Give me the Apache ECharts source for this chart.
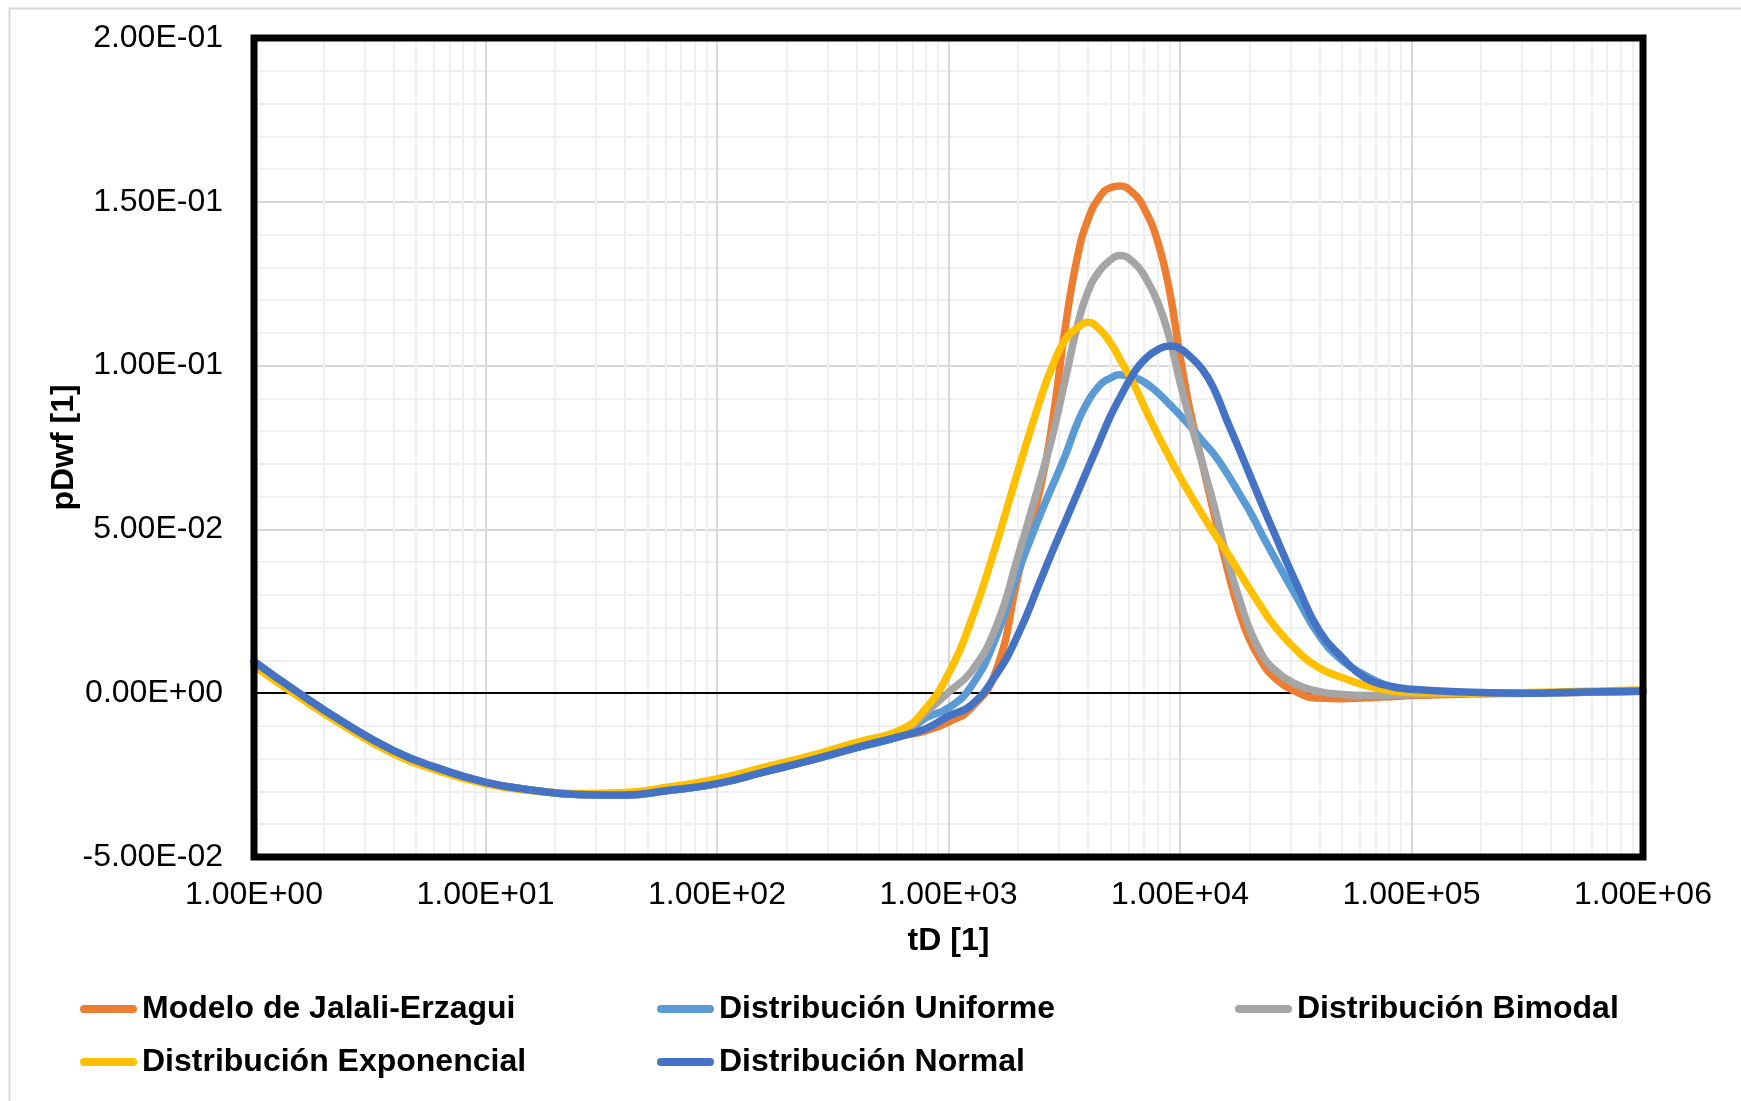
<!DOCTYPE html>
<html>
<head>
<meta charset="utf-8">
<script src="https://cdn.jsdelivr.net/npm/echarts@6/dist/echarts.min.js"></script>
<style>
  html, body { margin: 0; padding: 0; background: #fff; }
  #main { width: 1741px; height: 1101px; }
</style>
</head>
<body>
<div id="main"></div>
<script>
// tD values (x, log scale)
const tD = [1, 1.5, 2.5, 4, 6, 10, 16, 25, 40, 60, 100, 160, 250, 400, 630, 800, 1000, 1250, 1600, 2000,
  2500, 2800, 3200, 3600, 4000, 4500, 5000, 5500, 6300, 7000, 8000, 9000, 10000, 11000, 12500,
  14000, 16000, 18000, 20000, 22500, 25000, 32000, 40000, 50000, 63000, 80000, 100000, 180000,
  320000, 560000, 1000000];

// pDwf for each model
const jalali = [0.0097, 0.0009, -0.0094, -0.0175, -0.0225, -0.0272, -0.0296, -0.0309, -0.0311, -0.0298,
  -0.0276, -0.0240, -0.0206, -0.0166, -0.0131, -0.0114, -0.0088, -0.0046, 0.0066, 0.0360,
  0.0630, 0.0820, 0.1120, 0.1330, 0.1445, 0.1515, 0.1543, 0.1548, 0.1525, 0.1480,
  0.1380, 0.1230, 0.1030, 0.0870, 0.0700, 0.0550, 0.0380, 0.0250, 0.0163, 0.0097,
  0.0054, 0.0003, -0.0015, -0.0017, -0.0014, -0.0011, -0.0007, -0.0002, 0.0000, 0.0003, 0.0006];
const uniforme = [0.0097, 0.0009, -0.0094, -0.0175, -0.0225, -0.0272, -0.0296, -0.0309, -0.0311, -0.0298,
  -0.0276, -0.0240, -0.0206, -0.0166, -0.0128, -0.0075, -0.0045, 0.0020, 0.0168, 0.0370,
  0.0548, 0.0630, 0.0727, 0.0824, 0.0890, 0.0940, 0.0962, 0.0972, 0.0965, 0.0950,
  0.0918, 0.0882, 0.0849, 0.0817, 0.0770, 0.0730, 0.0670, 0.0610, 0.0556, 0.0487,
  0.0427, 0.0292, 0.0175, 0.0101, 0.0055, 0.0021, 0.0006, 0.0001, 0.0000, 0.0003, 0.0006];
const bimodal = [0.0097, 0.0009, -0.0094, -0.0175, -0.0225, -0.0272, -0.0296, -0.0309, -0.0311, -0.0298,
  -0.0276, -0.0240, -0.0206, -0.0164, -0.0120, -0.0058, 0.0003, 0.0065, 0.0200, 0.0420,
  0.0655, 0.0780, 0.0960, 0.1120, 0.1225, 0.1290, 0.1322, 0.1336, 0.1315, 0.1275,
  0.1195, 0.1085, 0.0950, 0.0840, 0.0700, 0.0575, 0.0410, 0.0290, 0.0195, 0.0120,
  0.0078, 0.0026, 0.0005, -0.0004, -0.0007, -0.0006, -0.0004, -0.0001, 0.0000, 0.0003, 0.0006];
const exponencial = [0.0083, -0.0003, -0.0104, -0.0185, -0.0233, -0.0277, -0.0298, -0.0306, -0.0303, -0.0288,
  -0.0262, -0.0226, -0.0192, -0.0150, -0.0110, -0.0045, 0.0060, 0.0220, 0.0450, 0.0680,
  0.0900, 0.0995, 0.1080, 0.1115, 0.1132, 0.1110, 0.1070, 0.1020, 0.0945, 0.0875,
  0.0790, 0.0720, 0.0660, 0.0610, 0.0545, 0.0490, 0.0428, 0.0370, 0.0318, 0.0262,
  0.0215, 0.0130, 0.0077, 0.0048, 0.0024, 0.0008, 0.0002, 0.0000, 0.0002, 0.0006, 0.0010];
const normal = [0.0097, 0.0009, -0.0094, -0.0175, -0.0225, -0.0272, -0.0296, -0.0309, -0.0311, -0.0298,
  -0.0276, -0.0240, -0.0206, -0.0166, -0.0130, -0.0108, -0.0070, -0.0037, 0.0055, 0.0180,
  0.0345, 0.0430, 0.0525, 0.0610, 0.0686, 0.0770, 0.0845, 0.0902, 0.0976, 0.1017,
  0.1048, 0.1060, 0.1052, 0.1029, 0.0988, 0.0930, 0.0830, 0.0745, 0.0667, 0.0580,
  0.0504, 0.0331, 0.0190, 0.0110, 0.0047, 0.0022, 0.0012, 0.0003, 0.0000, 0.0004, 0.0007];

const seriesNames = ['Modelo de Jalali-Erzagui', 'Distribución Uniforme', 'Distribución Bimodal',
  'Distribución Exponencial', 'Distribución Normal'];
const seriesValues = [jalali, uniforme, bimodal, exponencial, normal];
const colors = ['#ED7D31', '#5B9BD5', '#A5A5A5', '#FFC000', '#4472C4'];

const FONT = '"Liberation Sans", Arial, sans-serif';

// 1.00E+00 style labels
function sci(v) {
  if (Math.abs(v) < 1e-12) v = 0;
  const parts = v.toExponential(2).toUpperCase().split('E');
  const sign = parts[1][0] === '-' ? '-' : '+';
  return parts[0] + 'E' + sign + parts[1].replace(/[+-]/, '').padStart(2, '0');
}

// minor vertical grid lines at 2..9 of each decade
const minorX = [];
for (let d = 0; d < 6; d++) {
  for (let m = 2; m <= 9; m++) minorX.push(m * Math.pow(10, d));
}

const chart = echarts.init(document.getElementById('main'));

const series = [
  {
    name: '_grid', type: 'line', data: [], z: 1, silent: true,
    markLine: {
      z: 1, silent: true, symbol: 'none', animation: false,
      label: { show: false },
      lineStyle: { color: '#efefef', width: 2, type: 'solid' },
      data: minorX.map(x => ({ xAxis: x }))
    }
  },
  {
    name: '_zero', type: 'line', data: [], z: 1, silent: true,
    markLine: {
      z: 1, silent: true, symbol: 'none', animation: false,
      label: { show: false },
      lineStyle: { color: '#000', width: 2, type: 'solid' },
      data: [{ yAxis: 0 }]
    }
  }
];
seriesNames.forEach((name, i) => {
  series.push({
    name: name,
    type: 'line',
    z: 3,
    smooth: 0.5,
    showSymbol: false,
    symbol: 'none',
    lineStyle: { color: colors[i], width: 7.5, cap: 'round', join: 'round' },
    itemStyle: { color: colors[i] },
    data: tD.map((t, k) => [t, seriesValues[i][k]])
  });
});

const legendLeft = [80, 657, 1235, 80, 657];
const legendTop = [991, 991, 991, 1044, 1044];
const legends = seriesNames.map((name, i) => ({
  data: [name],
  left: legendLeft[i],
  top: legendTop[i],
  padding: 0,
  itemGap: 0,
  itemWidth: 57,
  itemHeight: 8,
  icon: 'path://M4,0 L53,0 A4,4 0 0 1 53,8 L4,8 A4,4 0 0 1 4,0 Z',
  selectedMode: false,
  textStyle: { fontFamily: FONT, fontSize: 32, fontWeight: 'bold', color: '#000', lineHeight: 36 }
}));

const option = {
  animation: false,
  backgroundColor: '#fff',
  graphic: [
    {
      type: 'rect', left: 7, top: 6, silent: true,
      shape: { width: 1780, height: 1140 },
      style: { fill: 'none', stroke: '#d9d9d9', lineWidth: 2 }
    },
    {
      // thick plot frame, drawn above the grid lines
      type: 'rect', silent: true, z: 100,
      shape: { x: 254, y: 38, width: 1389, height: 819 },
      style: { fill: 'none', stroke: '#000', lineWidth: 7 }
    }
  ],
  legend: legends,
  grid: { left: 254, right: 98, top: 38, bottom: 244, show: false },
  xAxis: {
    type: 'log',
    logBase: 10,
    min: 1,
    max: 1000000,
    splitNumber: 6,
    name: 'tD [1]',
    nameLocation: 'middle',
    nameGap: 68,
    nameTextStyle: { fontFamily: FONT, fontSize: 32, fontWeight: 'bold', color: '#000' },
    axisLine: { show: false },
    axisTick: { show: false },
    axisLabel: { fontFamily: FONT, fontSize: 32, color: '#000', margin: 22, formatter: v => sci(v) },
    splitLine: { show: true, lineStyle: { color: '#d9d9d9', width: 2 } }
  },
  yAxis: {
    type: 'value',
    min: -0.05,
    max: 0.2,
    interval: 0.05,
    name: 'pDwf [1]',
    nameLocation: 'middle',
    nameRotate: 90,
    nameGap: 174,
    nameMoveOverlap: false,
    nameTextStyle: { fontFamily: FONT, fontSize: 32, fontWeight: 'bold', color: '#000' },
    axisLine: { show: false },
    axisTick: { show: false },
    axisLabel: { fontFamily: FONT, fontSize: 32, color: '#000', margin: 31, formatter: v => sci(v) },
    splitLine: { show: true, lineStyle: { color: '#d9d9d9', width: 2 } },
    minorTick: { show: false, splitNumber: 5 },
    minorSplitLine: { show: true, lineStyle: { color: '#efefef', width: 2 } }
  },
  series: series
};

chart.setOption(option);
</script>
</body>
</html>
